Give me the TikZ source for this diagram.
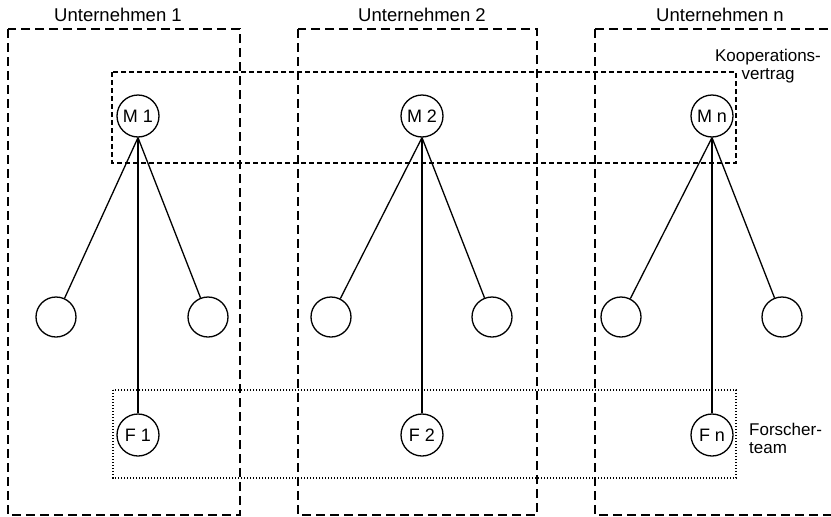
\documentclass[tikz,border=0pt]{standalone}
\usepackage{fontspec}
\setmainfont{Liberation Sans}
\begin{document}
\begin{tikzpicture}[x=1pt,y=-1pt,
  firm/.style={draw, line width=1.4pt, dash pattern=on 9pt off 5pt},
  coop/.style={draw, line width=1.3pt, dash pattern=on 5pt off 3pt},
  team/.style={draw, line width=1.1pt, dash pattern=on 1.2pt off 1.8pt},
  mnode/.style={circle, draw, line width=1.3pt, minimum size=42pt, inner sep=0pt, font=\fontsize{18}{19}\selectfont},
  leaf/.style={circle, draw, line width=1.3pt, minimum size=40pt, inner sep=0pt},
  link/.style={line width=1.3pt},
  title/.style={font=\fontsize{18.5}{20}\selectfont},
  side/.style={font=\fontsize{17}{18}\selectfont, inner sep=0pt}]
\useasboundingbox (0,0) rectangle (831,517);
% company boxes
\draw[firm] (8,29) rectangle (240,515);
\draw[firm] (298,29) rectangle (537,515);
\draw[firm] (595,29) -- (840,29) (595,29) -- (595,515) -- (840,515);
% cooperation and team boxes
\draw[coop] (112,72) rectangle (736,163);
\draw[team] (113,390) rectangle (736,478);
% titles
\node[title] (t1) at (118,15) {Unternehmen 1};
\node[title] (t2) at (422,15) {Unternehmen 2};
\node[title] (tn) at (720,15) {Unternehmen n};
\node[side, align=center] (kv) at (768,66) {Kooperations-\\vertrag};
\node[side, align=left, anchor=west] (ft) at (749,438) {Forscher-\\team};
% nodes
\foreach \i/\x/\lab in {1/138/M 1, 2/422/M 2, n/712/M n} {
  \node[mnode] (M\i) at (\x,116) {\lab};
}
\foreach \i/\x/\lab in {1/138/F 1, 2/422/F 2, n/712/F n} {
  \node[mnode] (F\i) at (\x,435) {\lab};
}
\node[leaf] (L1) at (56,317) {};
\node[leaf] (R1) at (208,317) {};
\node[leaf] (L2) at (331,317) {};
\node[leaf] (R2) at (492,317) {};
\node[leaf] (Ln) at (621,317) {};
\node[leaf] (Rn) at (782,317) {};
% connectors
\foreach \i in {1,2,n} {
  \draw[link] (M\i.south) -- (L\i);
  \draw[link] (M\i.south) -- (R\i);
  \draw[link] (M\i.south) -- (F\i.north);
}
\end{tikzpicture}
\end{document}
